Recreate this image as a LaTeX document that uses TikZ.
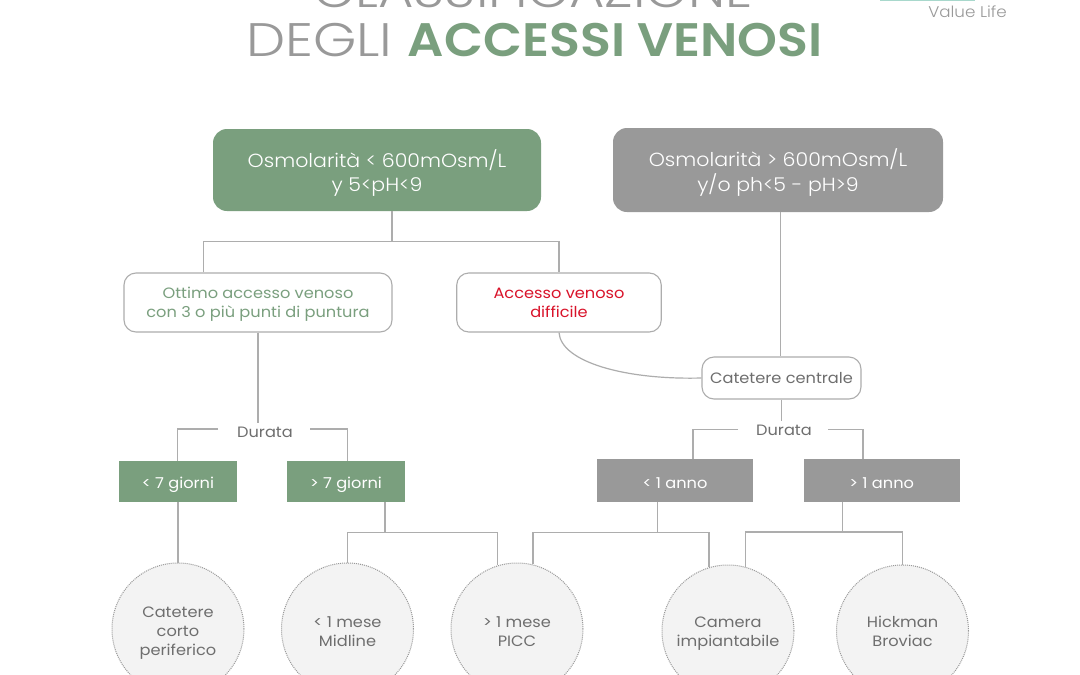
\documentclass[tikz,border=0pt]{standalone}
\usepackage{fontspec}
\setmainfont[FakeStretch=1.08]{Poppins}
\newfontfamily\lightfont[FakeStretch=1.08]{Poppins Light}
\newfontfamily\titlelight[FakeStretch=1.18]{Poppins Light}
\newfontfamily\titletop[FakeStretch=1.155]{Poppins Light}
\newfontfamily\titlebold[FakeStretch=1.08]{Poppins SemiBold}
\definecolor{vgreen}{HTML}{7A9F7E}
\definecolor{vgray}{HTML}{999999}
\definecolor{vtext}{HTML}{6E6E6E}
\definecolor{vline}{HTML}{ADADAD}
\definecolor{vfill}{HTML}{F3F3F3}
\definecolor{vred}{HTML}{D9132A}
\definecolor{vteal}{HTML}{A8D8CC}
\newcommand{\tshift}[2]{\raisebox{-#1}[\height][\depth]{\begin{tabular}{@{}c@{}}#2\end{tabular}}}
\tikzset{
  topbox/.style={rounded corners=14pt,inner sep=0,text=white,font=\lightfont\fontsize{19}{24}\selectfont},
  midbox/.style={draw=vline,fill=white,line width=1.1pt,rounded corners=12pt,inner sep=0,font=\fontsize{15}{19}\selectfont},
  durbox/.style={inner sep=0,text=white,font=\fontsize{15}{18}\selectfont},
  endcircle/.style={circle,draw=vgray,densely dotted,fill=vfill,line width=1pt,minimum size=132pt,inner sep=0,text=vtext,font=\fontsize{15}{19}\selectfont},
  durlabel/.style={inner sep=0,text=vtext,font=\fontsize{15}{18}\selectfont},
  conn/.style={draw=vline,line width=1.2pt},
  titletext/.style={inner sep=0,anchor=base,font=\titlelight\fontsize{47}{48}\selectfont}
}
\begin{document}
\begin{tikzpicture}[x=1pt,y=-1pt]
\useasboundingbox (0,0) rectangle (1080,675);
\clip (0,0) rectangle (1080,675);
\fill[white] (0,0) rectangle (1080,675);
% title
\node[titletext,text=vgray,font=\titletop\fontsize{47}{48}\selectfont] (t1) at (533.5,7) {CLASSIFICAZIONE};
\node[titletext,text=vgray,anchor=base west] (t2) at (246,56) {DEGLI \textcolor{vgreen}{\titlebold ACCESSI VENOSI}};
\node[inner sep=0,anchor=base,text=vgray,font=\lightfont\fontsize{15.5}{18}\selectfont] (vl) at (967.5,17.5) {Value Life};
\fill[vteal] (880,0) rectangle (975,1.2);
% top boxes
\node[topbox,fill=vgreen,minimum width=328pt,minimum height=82pt] (green) at (377,170) {\tshift{4pt}{Osmolarità < 600mOsm/L\\y 5<pH<9}};
\node[topbox,fill=vgray,minimum width=330pt,minimum height=84pt] (gray) at (778,170) {\tshift{4pt}{Osmolarità > 600mOsm/L\\y/o ph<5 - pH>9}};
% mid boxes
\node[midbox,text=vgreen,minimum width=268pt,minimum height=59pt] (ottimo) at (258,302.5) {\tshift{2pt}{Ottimo accesso venoso\\con 3 o più punti di puntura}};
\node[midbox,text=vred,minimum width=204.5pt,minimum height=59pt] (diff) at (559,302.5) {\tshift{2pt}{Accesso venoso\\difficile}};
\node[midbox,text=vtext,minimum width=159pt,minimum height=42pt] (cc) at (781.5,378) {\tshift{2pt}{Catetere centrale}};
% durata
\node[durlabel] (d1) at (265,432) {Durata};
\node[durlabel] (d2) at (784,430) {Durata};
% duration boxes
\node[durbox,fill=vgreen,minimum width=118pt,minimum height=41pt] (a7) at (178,481.5) {\tshift{3.5pt}{< 7 giorni}};
\node[durbox,fill=vgreen,minimum width=118pt,minimum height=41pt] (b7) at (346,481.5) {\tshift{3.5pt}{> 7 giorni}};
\node[durbox,fill=vgray,minimum width=156pt,minimum height=43pt] (a1) at (675,480.5) {\tshift{4pt}{< 1 anno}};
\node[durbox,fill=vgray,minimum width=156.5pt,minimum height=43pt] (b1) at (881.75,480.5) {\tshift{4pt}{> 1 anno}};
% circles
\node[endcircle] (c1) at (178,629) {\tshift{4pt}{Catetere\\corto\\periferico}};
\node[endcircle] (c2) at (347.5,629) {\tshift{4.5pt}{< 1 mese\\Midline}};
\node[endcircle] (c3) at (517,629) {\tshift{4.5pt}{> 1 mese\\PICC}};
\node[endcircle] (c4) at (728,631) {\tshift{2.5pt}{Camera\\impiantabile}};
\node[endcircle] (c5) at (902.5,631) {\tshift{2.5pt}{Hickman\\Broviac}};
% junctions
\coordinate (j1) at (392,241.5);
\coordinate (j1l) at (203.5,241.5);
\coordinate (j1r) at (559,241.5);
\coordinate (o1) at (258,423);
\coordinate (dl1) at (218,429);
\coordinate (dl1a) at (177.5,429);
\coordinate (dr1) at (310,429);
\coordinate (dr1a) at (347.5,429);
\coordinate (dl2) at (738,429.7);
\coordinate (dl2a) at (693,429.7);
\coordinate (dr2) at (828,429.7);
\coordinate (dr2a) at (863,429.7);
\coordinate (g2) at (780.5,212);
\coordinate (e1) at (781.5,421);
\coordinate (k1) at (385,532.5);
\coordinate (k1l) at (347.5,532.5);
\coordinate (k1r) at (497.5,532.5);
\coordinate (k2) at (657.7,532.7);
\coordinate (k2l) at (533,532.7);
\coordinate (k2r) at (709,532.7);
\coordinate (k3) at (842.7,532);
\coordinate (k3l) at (745.5,532);
\coordinate (k3r) at (902.5,532);
% connectors
\draw[conn] (green.south -| j1) -- (j1);
\draw[conn] (ottimo.north -| j1l) -- (j1l) -- (j1r) -- (diff.north -| j1r);
\draw[conn] (ottimo.south -| o1) -- (o1);
\draw[conn] (dl1) -- (dl1a) -- (a7.north -| dl1a);
\draw[conn] (dr1) -- (dr1a) -- (b7.north -| dr1a);
\draw[conn] (gray.south -| g2) -- (cc.north -| g2);
\draw[conn] (diff.south) .. controls (561,362) and (625,380) .. (cc.west);
\draw[conn] (cc.south -| e1) -- (e1);
\draw[conn] (dl2) -- (dl2a) -- (a1.north -| dl2a);
\draw[conn] (dr2) -- (dr2a) -- (b1.north -| dr2a);
\draw[conn] (a7.south -| c1) -- (c1.north);
\draw[conn] (b7.south -| k1) -- (k1);
\draw[conn] (c2.north) -- (k1l) -- (k1r) -- (k1r |- c3.107);
\draw[conn] (a1.south -| k2) -- (k2);
\draw[conn] (k2l |- c3.76) -- (k2l) -- (k2r) -- (k2r |- c4.107);
\draw[conn] (b1.south -| k3) -- (k3);
\draw[conn] (k3l |- c4.75) -- (k3l) -- (k3r) -- (c5.north);
\end{tikzpicture}
\end{document}
